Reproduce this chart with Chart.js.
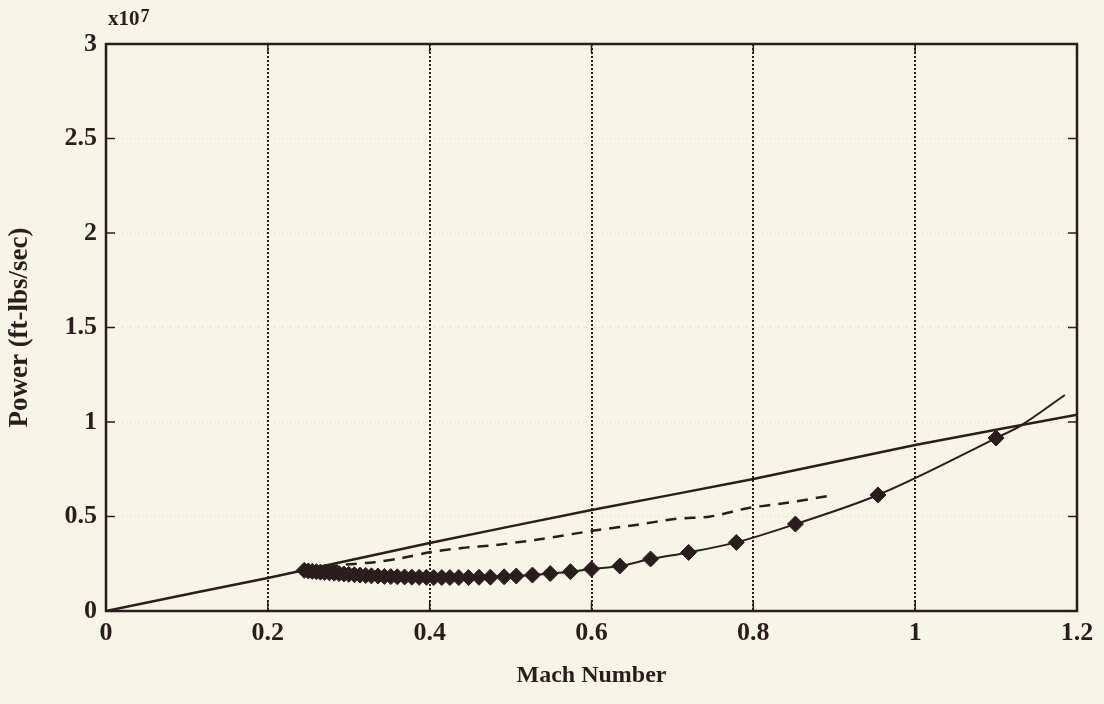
<!DOCTYPE html>
<html>
<head>
<meta charset="utf-8">
<title>Power vs Mach Number</title>
<script src="https://cdn.jsdelivr.net/npm/chart.js@4"></script>
<style>
  html, body { margin: 0; padding: 0; background: #f7f5e7; }
  #wrap { width: 1104px; height: 704px; }
</style>
</head>
<body>
<div id="wrap"><canvas id="powerChart" width="1104" height="704"></canvas></div>
<script>
// Mach number axis and power axis (power in units of 10^7 ft-lbs/sec)
const machTicks = [0, 0.2, 0.4, 0.6, 0.8, 1.0, 1.2];
const powerTicks = [0, 0.5, 1, 1.5, 2, 2.5, 3];

// upper solid curve
const upperMach  = [0, 0.108, 0.2, 0.4, 0.6, 0.8, 1.0, 1.2];
const upperPower = [0, 0.095, 0.175, 0.36, 0.534, 0.698, 0.878, 1.038];

// dashed curve
const dashMach  = [0.25, 0.295, 0.332, 0.365, 0.402, 0.44, 0.481, 0.53, 0.61, 0.655, 0.703, 0.747, 0.794, 0.84, 0.9];
const dashPower = [0.215, 0.245, 0.258, 0.28, 0.312, 0.333, 0.349, 0.376, 0.43, 0.455, 0.487, 0.5, 0.545, 0.571, 0.614];

// lower curve with diamond markers
const markMach = [0.245, 0.25, 0.255, 0.26, 0.265, 0.27, 0.276, 0.282, 0.288, 0.294,
                  0.30, 0.307, 0.314, 0.321, 0.328, 0.336, 0.344, 0.352, 0.36, 0.369,
                  0.378, 0.387, 0.396, 0.405, 0.415, 0.425, 0.436, 0.448, 0.461, 0.475,
                  0.492, 0.507, 0.527, 0.549, 0.574, 0.6, 0.635, 0.673, 0.72, 0.779,
                  0.852, 0.954, 1.1];
const markPower = [0.215, 0.212, 0.21, 0.208, 0.206, 0.204, 0.202, 0.2, 0.198, 0.196,
                   0.194, 0.192, 0.19, 0.188, 0.186, 0.185, 0.183, 0.182, 0.181, 0.18,
                   0.179, 0.178, 0.178, 0.177, 0.177, 0.177, 0.177, 0.177, 0.178, 0.179,
                   0.181, 0.185, 0.19, 0.198, 0.208, 0.222, 0.238, 0.275, 0.31, 0.363,
                   0.46, 0.614, 0.915];
// the lower curve carries on past the last marker
const tailMach  = [1.13, 1.185];
const tailPower = [0.98, 1.143];

const INK = '#2b1d1d';
const FONT = "'Liberation Serif', 'Times New Roman', serif";

function toPoints(xs, ys) {
    return xs.map((x, i) => ({ x: x, y: ys[i] }));
}

// Plot frame, inward tick marks and the x10^7 exponent
const framePlugin = {
    id: 'frame',
    beforeDatasetsDraw(chart) {
        const { ctx, chartArea: a, scales } = chart;
        ctx.save();
        ctx.strokeStyle = INK;
        ctx.lineWidth = 2.5;
        ctx.strokeRect(a.left, a.top, a.right - a.left, a.bottom - a.top);

        ctx.lineWidth = 1.5;
        ctx.beginPath();
        powerTicks.forEach(v => {
            const y = scales.y.getPixelForValue(v);
            ctx.moveTo(a.left, y); ctx.lineTo(a.left + 9, y);
            ctx.moveTo(a.right, y); ctx.lineTo(a.right - 9, y);
        });
        machTicks.forEach(v => {
            const x = scales.x.getPixelForValue(v);
            ctx.moveTo(x, a.bottom); ctx.lineTo(x, a.bottom - 9);
            ctx.moveTo(x, a.top); ctx.lineTo(x, a.top + 9);
        });
        ctx.stroke();

        ctx.fillStyle = INK;
        ctx.textBaseline = 'alphabetic';
        ctx.textAlign = 'left';
        ctx.font = 'bold 21px ' + FONT;
        ctx.fillText('x10', a.left + 2, a.top - 19);
        const w = ctx.measureText('x10').width;
        ctx.font = 'bold 18px ' + FONT;
        ctx.fillText('7', a.left + 3 + w, a.top - 22);
        ctx.restore();
    }
};

const ctx = document.getElementById('powerChart');
new Chart(ctx, {
    type: 'line',
    data: {
        datasets: [{
            label: 'upper',
            data: toPoints(upperMach, upperPower),
            borderColor: INK,
            borderWidth: 2.5,
            pointRadius: 0,
            tension: 0.2
        }, {
            label: 'dashed',
            data: toPoints(dashMach, dashPower),
            borderColor: INK,
            borderWidth: 2.5,
            borderDash: [11, 8],
            pointRadius: 0,
            tension: 0.3
        }, {
            label: 'lower',
            data: toPoints(markMach.concat(tailMach), markPower.concat(tailPower)),
            borderColor: INK,
            borderWidth: 2,
            pointRadius: 0,
            cubicInterpolationMode: 'monotone'
        }, {
            label: 'markers',
            data: toPoints(markMach, markPower),
            showLine: false,
            pointStyle: 'rectRot',
            pointRadius: 8,
            pointBackgroundColor: INK,
            pointBorderColor: INK,
            pointBorderWidth: 1
        }]
    },
    options: {
        responsive: false,
        animation: false,
        events: [],
        layout: { padding: { top: 44, right: 27, bottom: 0, left: 0 } },
        plugins: {
            legend: { display: false },
            tooltip: { enabled: false }
        },
        scales: {
            x: {
                type: 'linear',
                min: 0,
                max: 1.2,
                afterFit: s => { s.height = 93; },
                afterBuildTicks: s => { s.ticks = machTicks.map(v => ({ value: v })); },
                ticks: {
                    color: INK,
                    padding: 7,
                    maxRotation: 0,
                    font: { family: FONT, size: 26, weight: 'bold' },
                    callback: v => String(Number(v.toFixed(1)))
                },
                grid: {
                    color: INK,
                    lineWidth: 2,
                    drawTicks: false
                },
                border: { display: false, dash: [2, 2] },
                title: {
                    display: true,
                    text: 'Mach Number',
                    color: INK,
                    padding: { top: 0, bottom: 14 },
                    font: { family: FONT, size: 24, weight: 'bold' }
                }
            },
            y: {
                type: 'linear',
                min: 0,
                max: 3,
                afterFit: s => { s.width = 106; },
                afterBuildTicks: s => { s.ticks = powerTicks.map(v => ({ value: v })); },
                ticks: {
                    color: INK,
                    padding: 9,
                    font: { family: FONT, size: 26, weight: 'bold' },
                    callback: v => String(v)
                },
                grid: {
                    color: 'rgba(70, 50, 45, 0.22)',
                    lineWidth: 1,
                    drawTicks: false
                },
                border: { display: false, dash: [1, 7] },
                title: {
                    display: true,
                    text: 'Power (ft-lbs/sec)',
                    color: INK,
                    padding: { top: 4, bottom: 0 },
                    font: { family: FONT, size: 27, weight: 'bold' }
                }
            }
        }
    },
    plugins: [framePlugin]
});
</script>
</body>
</html>
